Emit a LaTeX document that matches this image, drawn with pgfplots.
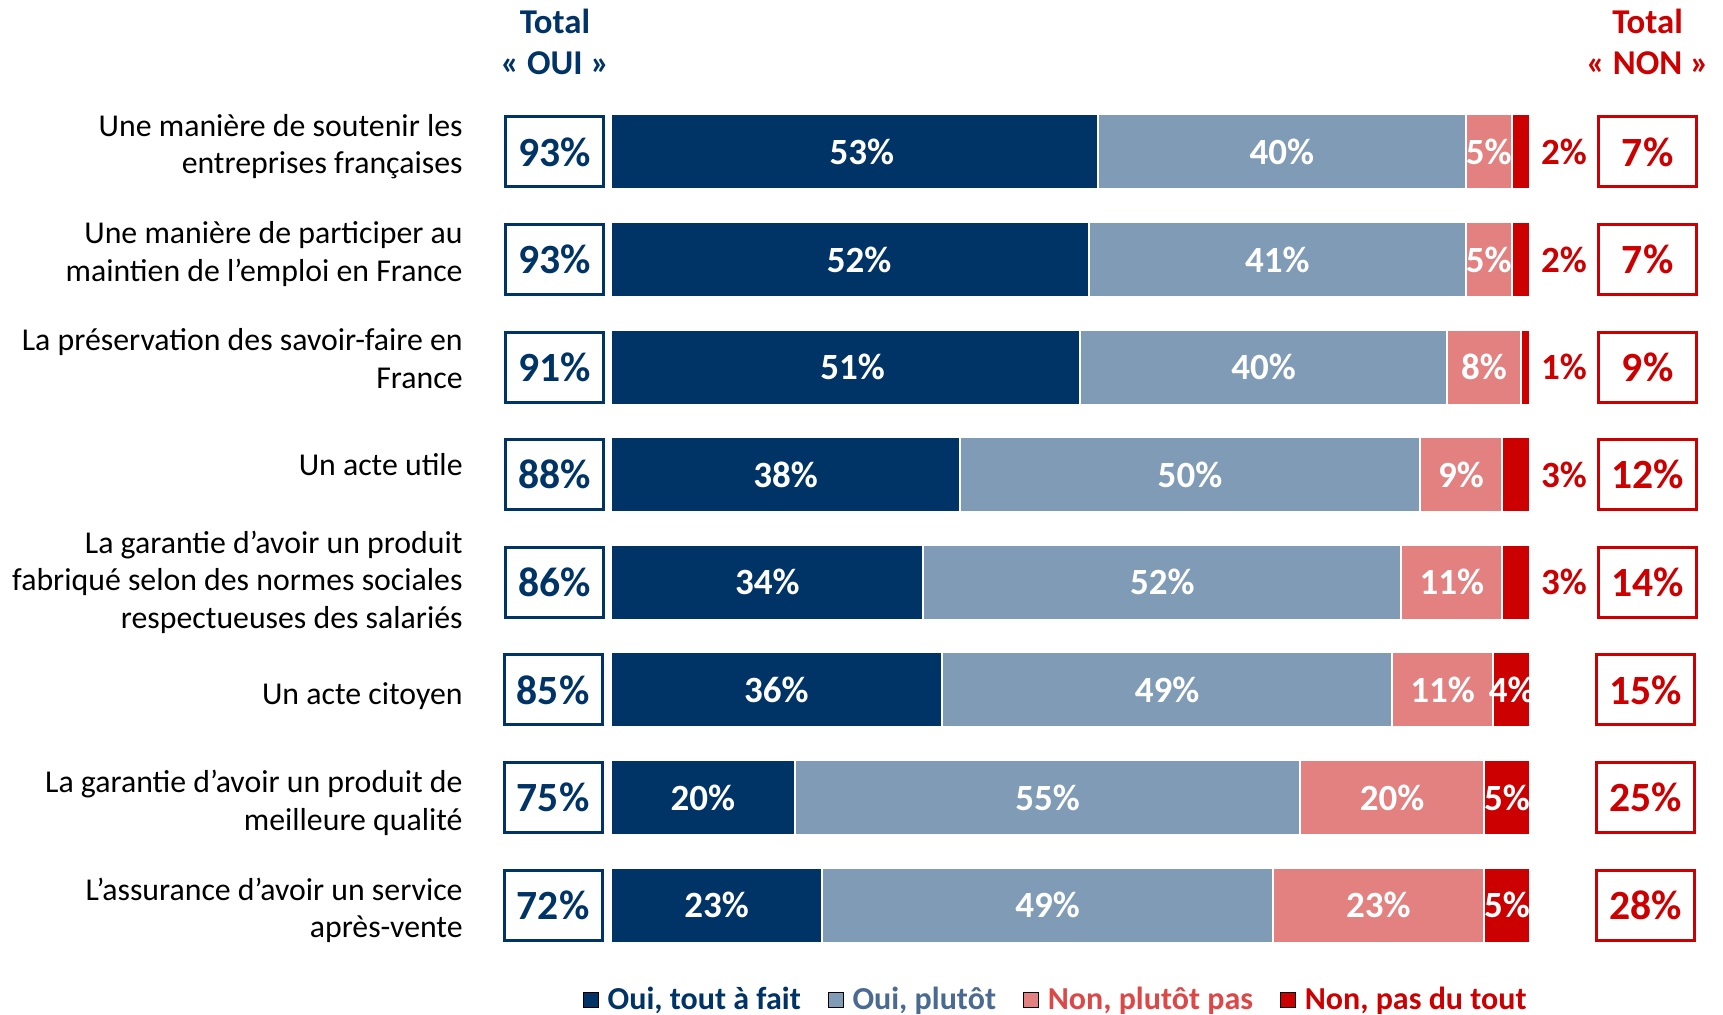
\documentclass[border=0pt]{standalone}
\usepackage{pgfplots}
\pgfplotsset{compat=1.18}
\usepackage{pgfplotstable}
\usepackage{fontspec}
\setmainfont{Carlito}
\definecolor{c1}{RGB}{0,51,102}
\definecolor{c2}{RGB}{127,155,182}
\definecolor{c3}{RGB}{227,128,128}
\definecolor{c4}{RGB}{204,0,0}
\definecolor{t2}{RGB}{74,106,145}
\definecolor{t3}{RGB}{220,72,72}
\newcommand{\catfont}{\fontsize{15.9}{18.7}\selectfont}
\newcommand{\segfont}{\fontsize{18.5}{20}\selectfont\bfseries}
\newcommand{\boxfont}{\fontsize{20.8}{22}\selectfont\bfseries}
\newcommand{\titfont}{\fontsize{17.4}{20.5}\selectfont\bfseries}
\newcommand{\legfont}{\fontsize{16}{18}\selectfont\bfseries}

\pgfplotstableread{
row a b c d
1 53 40 5 2
2 52 41 5 2
3 51 40 8 1
4 38 50 9 3
5 34 52 11 3
6 36 49 11 4
7 20 55 20 5
8 23 49 23 5
}\bars

\pgfplotstableread{
row xa a xb b xc c
1 27.3 53 73 40 95.5 5
2 27 52 72.5 41 95.5 5
3 26.3 51 71 40 95 8
4 19 38 63 50 92.5 9
5 17 34 60 52 91.5 11
6 18 36 60.5 49 90.5 11
7 10 20 47.5 55 85 20
8 11.5 23 47.5 49 83.5 23
}\seglabels

\pgfplotstableread{
row x d
1 100 2
2 100 2
3 100 1
4 100 3
5 100 3
}\outlabels

\pgfplotstableread{
row x d
6 98 4
7 97.5 5
8 97.5 5
}\inlabels

\pgfplotstableread{
row xl oui xr non
1 -6.1 93 112.8 7
2 -6.1 93 112.8 7
3 -6.1 91 112.8 9
4 -6.1 88 112.8 12
5 -6.1 86 112.8 14
6 -6.3 85 112.6 15
7 -6.3 75 112.6 25
8 -6.3 72 112.6 28
}\totals

\pgfplotsset{
  common/.style={
    scale only axis, width=459.5pt, height=430.3pt,
    at={(305.5pt,-479.4pt)}, anchor=south west,
    xmin=0, xmax=100, ymin=0.5, ymax=8.5, y dir=reverse,
    clip=false,
  }
}

\begin{document}
\begin{tikzpicture}
\useasboundingbox (0,0) rectangle (861.5pt,-507.5pt);

\begin{axis}[common,
  xbar stacked, bar width=37.5pt,
  hide x axis,
  y axis line style={draw=none},
  ytick={0.95,1.95,2.92,3.91,5,6.06,7.05,8.05}, major tick length=0pt, ytick style={draw=none},
  yticklabels={{Une manière de soutenir les\\entreprises françaises},
               {Une manière de participer au\\maintien de l’emploi en France},
               {La préservation des savoir-faire en\\France},
               {Un acte utile},
               {La garantie d’avoir un produit\\fabriqué selon des normes sociales\\respectueuses des salariés},
               {Un acte citoyen},
               {La garantie d’avoir un produit de\\meilleure qualité},
               {L’assurance d’avoir un service\\après-vente}},
  yticklabel style={font=\catfont, align=right, inner sep=0pt, xshift=-74pt, text=black},
]
\addplot[fill=c1, draw=white, line width=1pt] table[x=a, y=row] {\bars};
\addplot[fill=c2, draw=white, line width=1pt] table[x=b, y=row] {\bars};
\addplot[fill=c3, draw=white, line width=1pt] table[x=c, y=row] {\bars};
\addplot[fill=c4, draw=white, line width=1pt] table[x=d, y=row] {\bars};
\end{axis}

\begin{axis}[common, hide axis,
  point meta=explicit,
  /pgf/number format/assume math mode=true,
  nodes near coords={\pgfmathprintnumber{\pgfplotspointmeta}\%},
  legend columns=4,
  legend cell align=left,
  legend image code/.code={\fill[#1] (0pt,-3.75pt) rectangle (7.5pt,3.75pt); \path (10pt,0pt);},
  legend style={at={(0.485,0)}, anchor=center, yshift=-20.5pt,
    draw=none, fill=none, font=\legfont,
    /tikz/every even column/.append style={column sep=11.5pt}},
]
\addplot[draw=none, forget plot,
  every node near coord/.append style={anchor=center, text=white, font=\segfont}]
  table[x=xa, y=row, meta=a] {\seglabels};
\addplot[draw=none, forget plot,
  every node near coord/.append style={anchor=center, text=white, font=\segfont}]
  table[x=xb, y=row, meta=b] {\seglabels};
\addplot[draw=none, forget plot,
  every node near coord/.append style={anchor=center, text=white, font=\segfont}]
  table[x=xc, y=row, meta=c] {\seglabels};
\addplot[draw=none, forget plot,
  every node near coord/.append style={anchor=center, text=white, font=\segfont}]
  table[x=x, y=row, meta=d] {\inlabels};
\addplot[draw=none, forget plot,
  every node near coord/.append style={anchor=west, xshift=2pt, text=c4, font=\segfont}]
  table[x=x, y=row, meta=d] {\outlabels};
\addplot[draw=none, forget plot,
  every node near coord/.append style={anchor=center, draw=c1, line width=1.5pt,
    minimum width=49pt, minimum height=35pt, inner sep=0pt, text=c1, font=\boxfont}]
  table[x=xl, y=row, meta=oui] {\totals};
\addplot[draw=none, forget plot,
  every node near coord/.append style={anchor=center, draw=c4, line width=1.5pt,
    minimum width=49pt, minimum height=35pt, inner sep=0pt, text=c4, font=\boxfont}]
  table[x=xr, y=row, meta=non] {\totals};

\node[font=\titfont, text=c1, align=center] at (axis cs:-6.1,-0.02) {Total\\« OUI »};
\node[font=\titfont, text=c4, align=center] at (axis cs:112.8,-0.02) {Total\\« NON »};

\addlegendimage{fill=c1}
\addlegendentry{\textcolor{c1}{Oui, tout à fait}}
\addlegendimage{fill=c2}
\addlegendentry{\textcolor{t2}{Oui, plutôt}}
\addlegendimage{fill=c3}
\addlegendentry{\textcolor{t3}{Non, plutôt pas}}
\addlegendimage{fill=c4}
\addlegendentry{\textcolor{c4}{Non, pas du tout}}
\end{axis}
\end{tikzpicture}
\end{document}
